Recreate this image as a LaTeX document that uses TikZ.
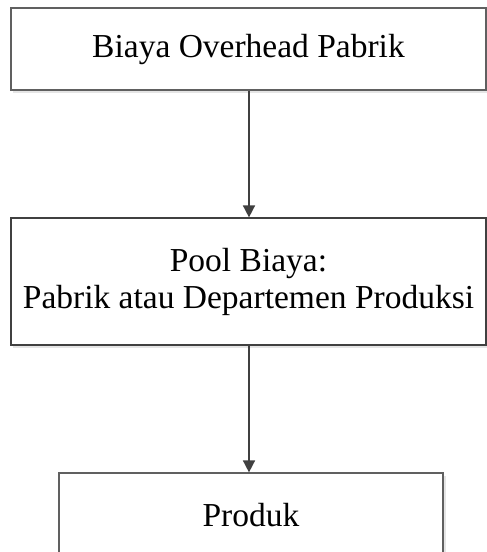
\documentclass[tikz,border=0pt]{standalone}
\usepackage{fontspec}
\setmainfont{Liberation Serif}
\usetikzlibrary{arrows.meta,positioning}

\begin{document}
\begin{tikzpicture}[x=1pt,y=1pt,>={Triangle[width=12pt,length=12pt]},
 font=\fontsize{33.5}{37}\selectfont,
 box/.style={draw=gray!75!black,line width=1.2pt,fill=white,align=center,inner sep=0pt},
 flow/.style={->,line width=1.6pt,draw=black!75,color=black!75}]
\useasboundingbox (0,0) rectangle (487,-552);
\clip (0,0) rectangle (487,-552);
% shadows
\fill[gray!20] (13,-11) rectangle (489,-93);
\fill[gray!20] (13,-221) rectangle (489,-348);
\fill[gray!20] (61,-476) rectangle (446,-560);
\node[box,minimum width=475pt,minimum height=82pt] (ovh) at (248.5,-49) {Biaya Overhead Pabrik};
\node[box,draw=black!75,minimum width=475pt,minimum height=127pt] (pool) at (248.5,-281.5) {Pool Biaya:\\Pabrik atau Departemen Produksi};
\node[box,minimum width=384pt,minimum height=84pt] (prod) at (251,-515) {Produk};
\draw[flow] (ovh.south -| 249,0) -- (pool.north -| 249,0);
\draw[flow] (pool.south -| 249,0) -- (prod.north -| 249,0);
\end{tikzpicture}
\end{document}
